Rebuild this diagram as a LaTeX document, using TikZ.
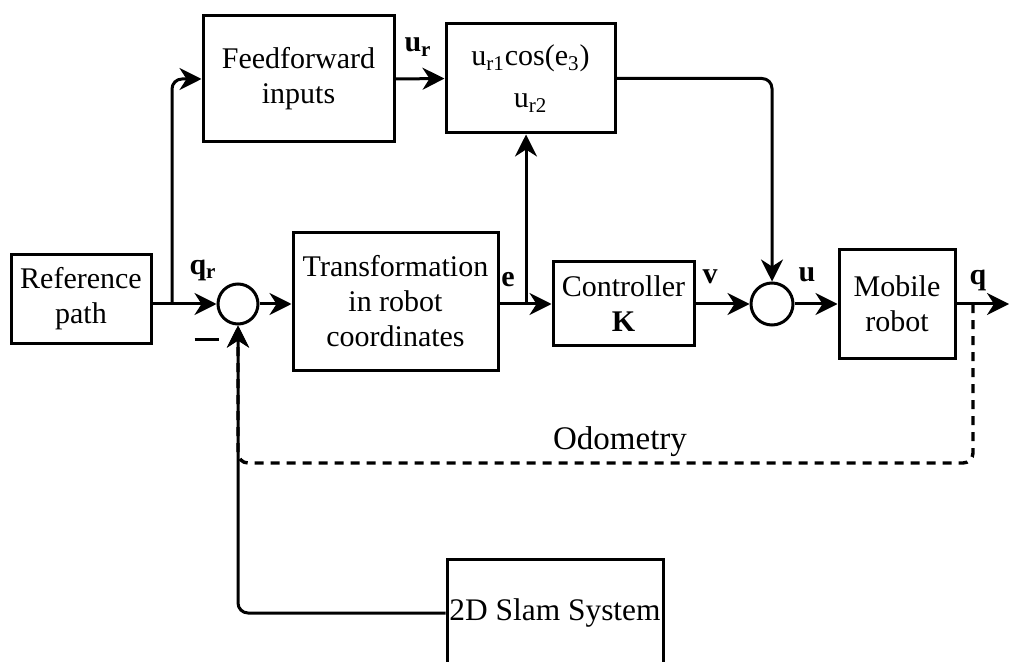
\documentclass[tikz,border=0pt]{standalone}
\usepackage{fontspec}
\setmainfont{Liberation Serif}
\usetikzlibrary{arrows.meta}
\begin{document}
\begin{tikzpicture}[x=0.5pt,y=-0.5pt,
  blk/.style={draw, line width=1.5pt, align=center, inner sep=0pt,
    font=\fontsize{15}{17.5}\selectfont},
  sumnode/.style={draw, circle, line width=1.5pt, minimum size=20pt, inner sep=0pt},
  wire/.style={line width=1.5pt, rounded corners=5pt},
  arr/.style={wire, -{Stealth[length=11pt,width=11pt,inset=3.5pt]}},
  lbl/.style={font=\fontsize{15}{17.5}\selectfont\bfseries},
  odo/.style={line width=1.7pt, dash pattern=on 4.5pt off 3.5pt},
]
\useasboundingbox (0,0) rectangle (1010,662);
\clip (0,0) rectangle (1010,662);

% blocks
\node[blk, minimum width=70pt, minimum height=44pt] (ref) at (81,299) {Reference\\path};
\node[blk, minimum width=95.5pt, minimum height=63pt] (ff) at (298.5,79) {Feedforward\\inputs};
\node[blk, minimum width=84.5pt, minimum height=54.5pt, font=\fontsize{15}{21}\selectfont] (cos) at (530.5,78.5)
  {u\textsubscript{r1}cos(e\textsubscript{3})\\u\textsubscript{r2}};
\node[blk, minimum width=102.5pt, minimum height=68.5pt] (tr) at (395.5,301.5) {Transformation\\in robot\\coordinates};
\node[blk, minimum width=70.5pt, minimum height=41.5pt] (ctl) at (623.5,303.5) {Controller\\\textbf{K}};
\node[blk, minimum width=58pt, minimum height=54pt] (rob) at (897,304) {Mobile\\robot};
\node[blk, minimum width=108pt, minimum height=54pt, font=\fontsize{15.7}{18}\selectfont] (slam) at (555,613) {2D Slam System};

% summing junctions
\node[sumnode] (s1) at (238,304) {};
\node[sumnode, minimum size=21pt] (s2) at (772,304) {};

% branch points and free ends
\coordinate (fork) at (172,304);
\coordinate (ebr) at (526,304);
\coordinate (tap) at (973,304);
\coordinate (out) at (1009,304);
\coordinate (odl) at (973,463);

% forward path
\draw[arr] (s1.west -| ref.east) -- (s1.west);
\draw[arr] (fork) |- (ff.west);
\draw[arr] (ff.east) -- (cos.west);
\draw[arr] (cos.east) -| (s2.north);
\draw[arr] (s1.east) -- (s1.east -| tr.west);
\draw[arr] (s1 -| tr.east) -- (s1 -| ctl.west);
\draw[arr] (ebr) -- (ebr |- cos.south);
\draw[arr] (s2 -| ctl.east) -- (s2.west);
\draw[arr] (s2.east) -- (s2.east -| rob.west);
\draw[arr] (s2 -| rob.east) -- (out);

% feedback paths
\draw[arr, odo] (tap) -- (odl) -- (s1 |- odl) -- (s1.south);
\draw[arr] (slam.west) -| (s1.south);

% signal labels
\node[lbl] at (203,270) {q\textsubscript{r}};
\node[lbl] at (418,47) {u\textsubscript{r}};
\node[lbl] at (508,280) {e};
\node[lbl] at (710,277) {v};
\node[lbl] at (807,275) {u};
\node[lbl] at (978,280) {q};
\node[font=\fontsize{13}{15}\selectfont] at (207,343) {\rule[0.25em]{0.95em}{0.11em}};
\node[font=\fontsize{16.5}{19}\selectfont] at (620,442) {Odometry};
\end{tikzpicture}
\end{document}
